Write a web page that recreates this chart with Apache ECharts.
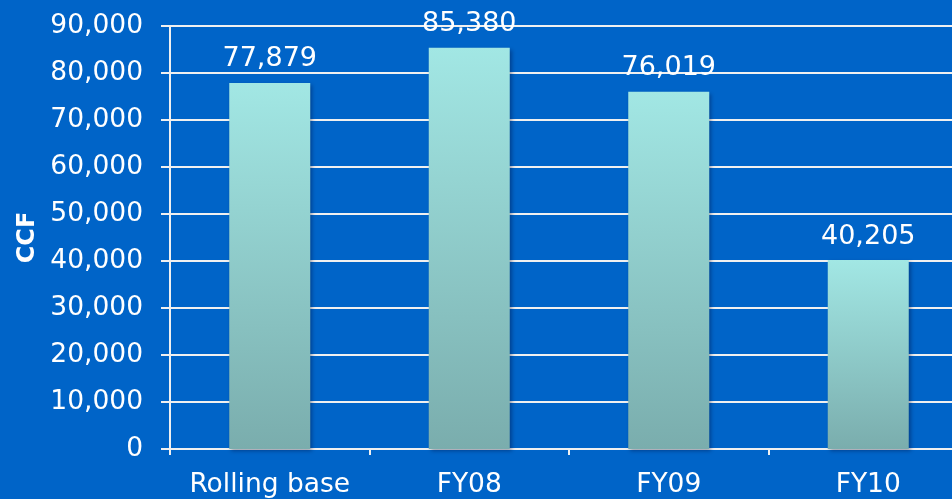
<!DOCTYPE html>
<html>
<head>
<meta charset="utf-8">
<script src="https://cdn.jsdelivr.net/npm/echarts@6/dist/echarts.min.js"></script>
<style>
html,body{margin:0;padding:0;background:#0064C8;}
#c{width:952px;height:499px;}
</style>
</head>
<body>
<div id="c"></div>
<script>
const categories = ['Rolling base', 'FY08', 'FY09', 'FY10'];
const values = [77879, 85380, 76019, 40205];
const yMin = 0, yMax = 90000, yInterval = 10000;
const yAxisName = 'CCF';

const chart = echarts.init(document.getElementById('c'));
const font = 'DejaVu Sans, Verdana, sans-serif';
chart.setOption({
  backgroundColor: '#0064C8',
  animation: false,
  grid: { left: 170, right: -16, top: 26, bottom: 50, containLabel: false, outerBoundsMode: 'none' },
  xAxis: {
    type: 'category',
    data: categories,
    axisLine: { lineStyle: { color: '#F0F0F0', width: 2 } },
    axisTick: { show: true, interval: 0, length: 6, lineStyle: { color: '#F0F0F0', width: 2 } },
    axisLabel: { color: '#FFFFFF', fontSize: 26.5, fontFamily: font, margin: 23, interval: 0 }
  },
  yAxis: {
    type: 'value',
    min: yMin, max: yMax, interval: yInterval,
    name: yAxisName,
    nameLocation: 'middle',
    nameGap: 129,
    nameRotate: 90,
    nameTextStyle: { color: '#FFFFFF', fontSize: 24, fontWeight: 'bold', fontFamily: font },
    axisLine: { show: true, lineStyle: { color: '#F0F0F0', width: 2 } },
    axisTick: { show: true, length: 9, lineStyle: { color: '#F0F0F0', width: 2 } },
    splitLine: { lineStyle: { color: '#F0F0F0', width: 2 } },
    axisLabel: {
      color: '#FFFFFF', fontSize: 26.5, fontFamily: font, margin: 27,
      formatter: v => v.toLocaleString('en-US')
    }
  },
  series: [{
    type: 'bar',
    data: values,
    barWidth: 81,
    itemStyle: {
      color: new echarts.graphic.LinearGradient(0, 0, 0, 1, [
        { offset: 0, color: '#A2E7E4' },
        { offset: 1, color: '#7AADAD' }
      ]),
      shadowColor: 'rgba(0,0,40,0.35)',
      shadowBlur: 4,
      shadowOffsetX: 2,
      shadowOffsetY: 2
    },
    label: {
      show: true,
      position: 'top',
      distance: 10,
      color: '#FFFFFF',
      fontSize: 27,
      fontFamily: font,
      formatter: p => p.value.toLocaleString('en-US')
    }
  }]
});
</script>
</body>
</html>
